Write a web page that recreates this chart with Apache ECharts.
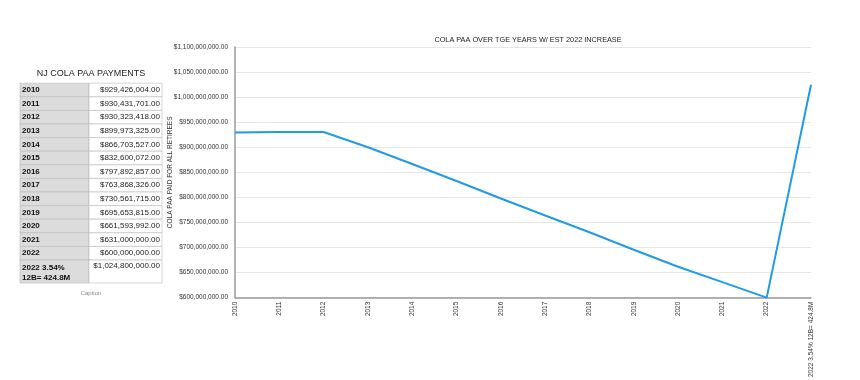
<!DOCTYPE html>
<html><head><meta charset="utf-8">
<script src="https://cdn.jsdelivr.net/npm/echarts@6/dist/echarts.min.js"></script>
<style>html,body{margin:0;padding:0;background:#fff}#c{width:860px;height:380px}</style>
</head><body><div id="c"></div>
<script>
var categories = ['2010','2011','2012','2013','2014','2015','2016','2017','2018','2019','2020','2021','2022','2022 3.54% 12B= 424.8M'];
var tableLabels = ['2010','2011','2012','2013','2014','2015','2016','2017','2018','2019','2020','2021','2022','2022 3.54%\n12B= 424.8M'];
var paaValues = [929426004, 930431701, 930323418, 899973325, 866703527, 832600072, 797892857, 763868326, 730561715, 695653815, 661593992, 631000000, 600000000, 1024800000];
var chartTitle = 'COLA PAA OVER TGE YEARS W/ EST 2022 INCREASE';
var tableTitle = 'NJ COLA PAA PAYMENTS';
var yName = 'COLA PAA PAID FOR ALL RETIREES';

function money(v){
  var s = Math.round(v).toString().replace(/\B(?=(\d{3})+(?!\d))/g, ',');
  return '$' + s + '.00';
}
var FONT = '"Liberation Sans", Arial, Helvetica, sans-serif';

// table graphics
var g = [];
var tx0 = 20, tx1 = 89, tx2 = 162, ty0 = 83.2, rh = 13.6, lastH = 23;
g.push({type:'text', style:{text:tableTitle, x:(tx0+tx2)/2, y:73.5, textAlign:'center', textVerticalAlign:'middle', fill:'#222', font:'9px ' + FONT}});
var y = ty0;
for (var i = 0; i < tableLabels.length; i++) {
  var h = (i === tableLabels.length - 1) ? lastH : rh;
  g.push({type:'rect', shape:{x:tx0, y:y, width:tx1-tx0, height:h}, style:{fill:'#dcdcdc', stroke:'#b8b8b8', lineWidth:0.6}});
  g.push({type:'rect', shape:{x:tx1, y:y, width:tx2-tx1, height:h}, style:{fill:'#fff', stroke:'#b8b8b8', lineWidth:0.6}});
  var multi = tableLabels[i].indexOf('\n') >= 0;
  g.push({type:'text', style:{text:tableLabels[i], x:tx0+2, y: multi ? y+2.5 : y+h/2, textAlign:'left', textVerticalAlign: multi ? 'top' : 'middle', fill:'#111', font:'bold 8px ' + FONT, lineHeight:10}});
  g.push({type:'text', style:{text:money(paaValues[i]), x:tx2-2, y: multi ? y+2 : y+h/2, textAlign:'right', textVerticalAlign: multi ? 'top' : 'middle', fill:'#222', font:'8px ' + FONT}});
  y += h;
}
g.push({type:'text', style:{text:'Caption', x:91, y:293, textAlign:'center', textVerticalAlign:'middle', fill:'#888', font:'6px ' + FONT}});

var chart = echarts.init(document.getElementById('c'), null, {renderer:'canvas'});
chart.setOption({
  animation:false,
  backgroundColor:'#fff',
  textStyle:{fontFamily:FONT},
  title:{text:chartTitle, left:523, top:31, textAlign:'center', textStyle:{fontSize:7.3, fontWeight:'normal', color:'#222', fontFamily:FONT}},
  grid:{left:235, right:49, top:47, bottom:82, containLabel:false},
  xAxis:{type:'category', data:categories, boundaryGap:false,
    axisLine:{lineStyle:{color:'#9a9a9a', width:1.5}},
    axisTick:{show:false},
    axisLabel:{rotate:90, fontSize:6.5, color:'#333', margin:4, interval:0, fontFamily:FONT},
    splitLine:{show:false}},
  yAxis:{type:'value', min:600000000, max:1100000000, interval:50000000,
    name:yName, nameLocation:'middle', nameGap:61, nameRotate:90, nameMoveOverlap:false,
    nameTextStyle:{fontSize:6.5, color:'#333', fontFamily:FONT},
    axisLine:{show:true, lineStyle:{color:'#9a9a9a', width:1.5}},
    axisTick:{show:false},
    axisLabel:{formatter:money, fontSize:6.5, color:'#333', margin:7, fontFamily:FONT},
    splitLine:{lineStyle:{color:'#e6e6e6', width:1}}},
  series:[{type:'line', data:paaValues, showSymbol:false, symbol:'none',
    lineStyle:{color:'#1f9be8', width:2}, itemStyle:{color:'#1f9be8'}}],
  graphic:g
});
</script></body></html>
